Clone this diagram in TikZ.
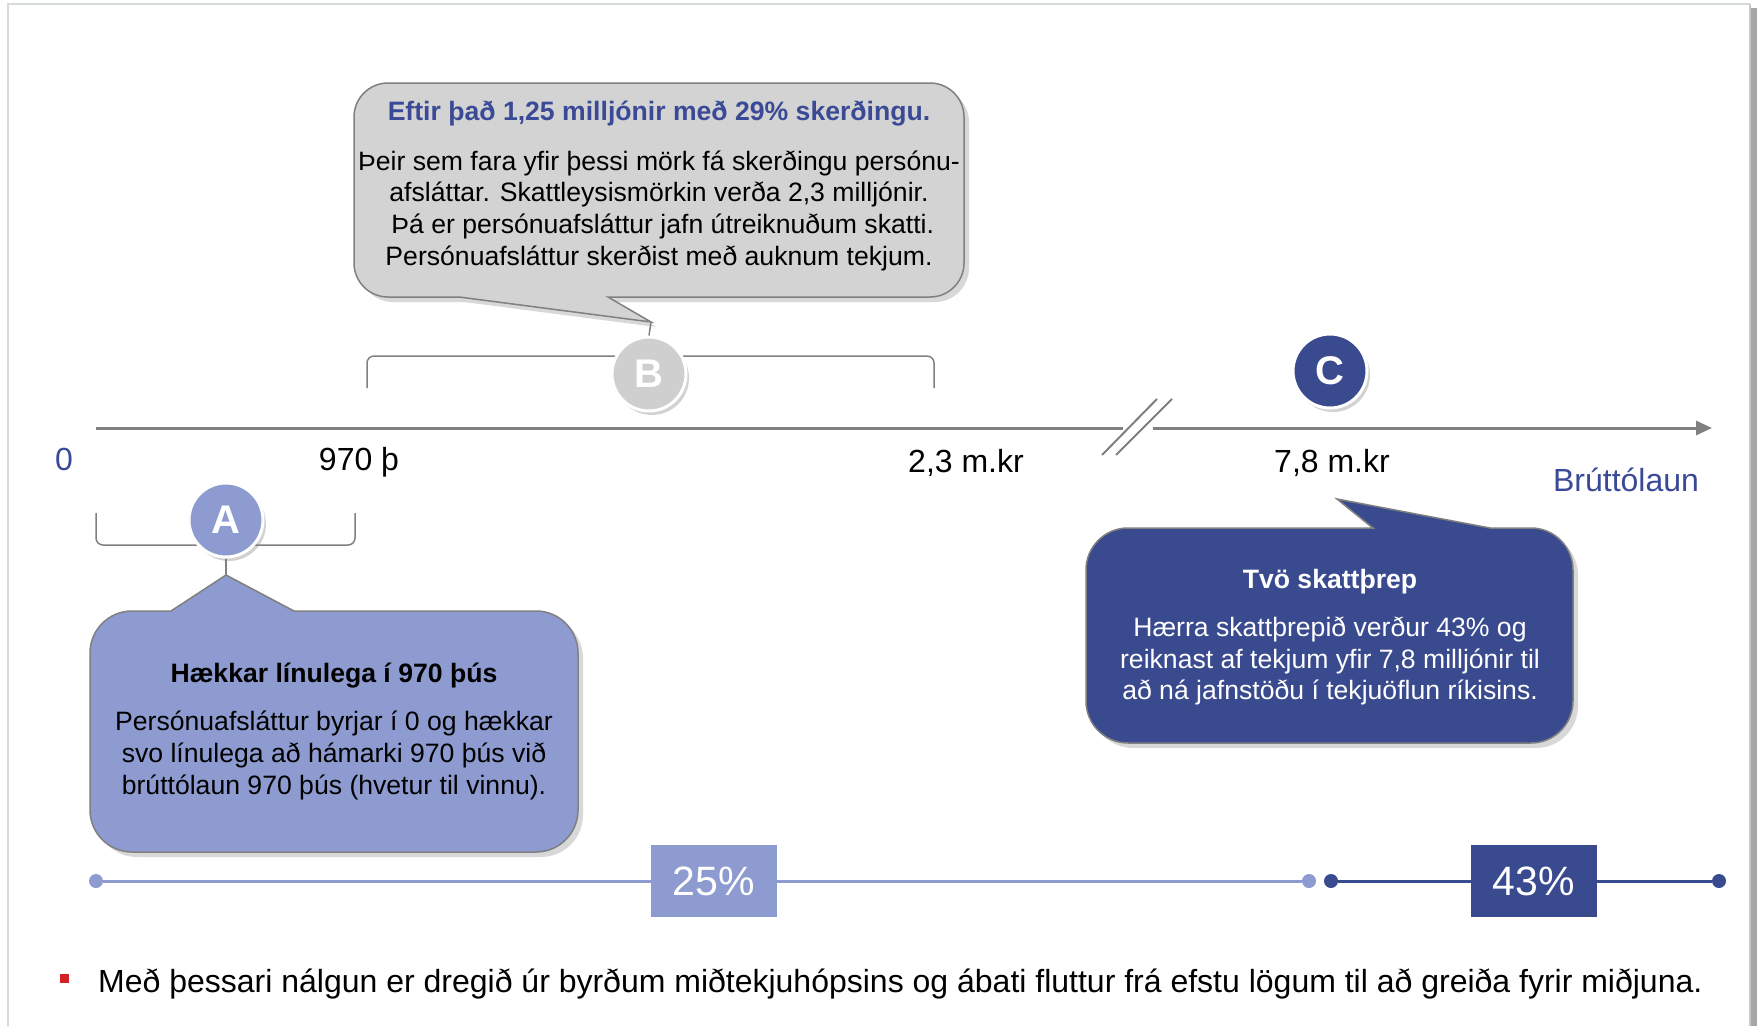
\documentclass[tikz,border=0pt]{standalone}
\usepackage{fontspec}
\setmainfont{Liberation Sans}
\usetikzlibrary{arrows.meta,shadows}
\definecolor{lblue}{HTML}{8E9BD0}
\definecolor{dblue}{HTML}{3A4A8F}
\definecolor{bgray}{HTML}{CFCFCF}
\definecolor{cgray}{HTML}{D3D3D3}
\definecolor{axgray}{HTML}{808080}
\definecolor{ttblue}{HTML}{3A4A96}
\definecolor{framegray}{HTML}{D5DADA}
\definecolor{bred}{HTML}{D42027}
\begin{document}
\begin{tikzpicture}[x=1pt,y=-1pt,
  lbl/.style={font=\fontsize{32}{37}\selectfont, inner sep=0pt},
  badge/.style={circle, minimum size=74pt, inner sep=0pt, draw=white, line width=3pt,
    font=\fontsize{40}{40}\selectfont\bfseries, text=white,
    drop shadow={shadow xshift=3pt, shadow yshift=-4pt, opacity=0.35}},
  bubble/.style={draw=axgray, line width=1.5pt,
    drop shadow={shadow xshift=5pt, shadow yshift=-5pt, opacity=0.3}},
  ctitle/.style={font=\fontsize{26.6}{31.7}\selectfont\bfseries, inner sep=0pt},
  cbody/.style={font=\fontsize{26.6}{31.7}\selectfont, align=center, inner sep=0pt},
  axis/.style={draw=axgray, line width=3pt},
  brack/.style={draw=axgray, line width=1.5pt, rounded corners=7pt},
  link/.style={draw=axgray, line width=1.5pt},
  rate/.style={minimum width=126pt, minimum height=72pt, inner sep=0pt, text=white,
    font=\fontsize{41}{41}\selectfont},
  dot/.style={circle, minimum size=14pt, inner sep=0pt}]
\useasboundingbox (0,0) rectangle (1757,1026);
% slide frame
\fill[white] (0,0) rectangle (1757,1026);
\draw[framegray, line width=2pt] (8,1026) -- (8,4) -- (1750,4);
\fill[black!35] (1750,8) rectangle (1757,1026);
\draw[black!22, line width=1.5pt] (1750,4) -- (1750,1026);

% axis
\coordinate (ax0) at (96,428);
\coordinate (axb1) at (1123,428);
\coordinate (axb2) at (1153,428);
\coordinate (axend) at (1712,428);
\draw[axis] (ax0) -- (axb1);
\draw[axis, -{Triangle[length=16pt,width=14pt]}] (axb2) -- (axend);
\coordinate (s1a) at (1102,455); \coordinate (s1b) at (1157,399);
\coordinate (s2a) at (1116,455); \coordinate (s2b) at (1172,399);
\draw[draw=axgray, line width=2pt] (s1a) -- (s1b);
\draw[draw=axgray, line width=2pt] (s2a) -- (s2b);

% axis labels
\node[lbl, text=ttblue] (l0) at (64,459) {0};
\node[lbl] (l970) at (359,462.5) {970 þ};
\node[lbl] (l23) at (966,462.5) {2,3 m.kr};
\node[lbl] (l78) at (1332,462.5) {7,8 m.kr};
\node[lbl, text=ttblue] (lbr) at (1626,480) {Brúttólaun};

% brackets
\draw[brack] (367,388) -- (367,356) -- (934,356) -- (934,388);
\draw[brack] (96,513) -- (96,545) -- (355,545) -- (355,513);

% callout B
\coordinate (Btip) at (651,322);
\path[bubble, fill=cgray] (388,83) -- (930,83) arc[start angle=270,end angle=360,radius=34]
  -- (964,263) arc[start angle=0,end angle=90,radius=34]
  -- (608,297) -- (Btip) -- (459,297)
  -- (388,297) arc[start angle=90,end angle=180,radius=34]
  -- (354,117) arc[start angle=180,end angle=270,radius=34] -- cycle;
\node[ctitle, text=ttblue] (Bt) at (659,114) {Eftir það 1,25 milljónir með 29\% skerðingu.};
\node[cbody] (Bb) at (659,210.5) {Þeir sem fara yfir þessi mörk fá skerðingu persónu-\\
afsláttar. Skattleysismörkin verða 2,3 milljónir.\\
\ Þá er persónuafsláttur jafn útreiknuðum skatti.\\
Persónuafsláttur skerðist með auknum tekjum.};

% callout A
\coordinate (Atip) at (226,575);
\path[bubble, fill=lblue] (132,611) -- (171,611) -- (Atip) -- (294,611)
  -- (536,611) arc[start angle=270,end angle=360,radius=42]
  -- (578,810) arc[start angle=0,end angle=90,radius=42]
  -- (132,852) arc[start angle=90,end angle=180,radius=42]
  -- (90,653) arc[start angle=180,end angle=270,radius=42] -- cycle;
\node[ctitle] (At) at (334,675.5) {Hækkar línulega í 970 þús};
\node[cbody] (Ab) at (334,755.5) {Persónuafsláttur byrjar í 0 og hækkar\\
svo línulega að hámarki 970 þús við\\
brúttólaun 970 þús (hvetur til vinnu).};

% callout C
\coordinate (Ctip) at (1337,499);
\path[bubble, fill=dblue] (1128,528) -- (1373,528) -- (Ctip) -- (1490,528)
  -- (1531,528) arc[start angle=270,end angle=360,radius=42]
  -- (1573,701) arc[start angle=0,end angle=90,radius=42]
  -- (1128,743) arc[start angle=90,end angle=180,radius=42]
  -- (1086,570) arc[start angle=180,end angle=270,radius=42] -- cycle;
\node[ctitle, text=white] (Ct) at (1330,581.5) {Tvö skattþrep};
\node[cbody, text=white] (Cb) at (1330,661) {Hærra skattþrepið verður 43\% og\\
reiknast af tekjum yfir 7,8 milljónir til\\
að ná jafnstöðu í tekjuöflun ríkisins.};

% badges
\node[badge, fill=lblue] (A) at (226,520) {A};
\node[badge, fill=bgray] (B) at (649,374) {B};
\node[badge, fill=dblue] (C) at (1330,371) {C};
\draw[link] (Btip) -- (B.north);
\draw[link] (A.south) -- (Atip);

% rate bar
\node[dot, fill=lblue] (d1) at (96,881) {};
\node[dot, fill=lblue] (d2) at (1309,881) {};
\node[dot, fill=dblue] (d3) at (1331,881) {};
\node[dot, fill=dblue] (d4) at (1719,881) {};
\node[rate, fill=lblue] (r25) at (714,881) {25\%};
\node[rate, fill=dblue] (r43) at (1534,881) {43\%};
\draw[lblue, line width=3pt] (d1) -- (r25);
\draw[lblue, line width=3pt] (r25) -- (d2);
\draw[dblue, line width=3pt] (d3) -- (r43);
\draw[dblue, line width=3pt] (r43) -- (d4);

% bullet
\node[fill=bred, minimum size=9pt, inner sep=0pt] (bul) at (64.5,978.5) {};
\node[anchor=base west, inner sep=0pt, font=\fontsize{32}{38}\selectfont] (note) at (98,992)
  {Með þessari nálgun er dregið úr byrðum miðtekjuhópsins og ábati fluttur frá efstu lögum til að greiða fyrir miðjuna.};
\end{tikzpicture}
\end{document}
